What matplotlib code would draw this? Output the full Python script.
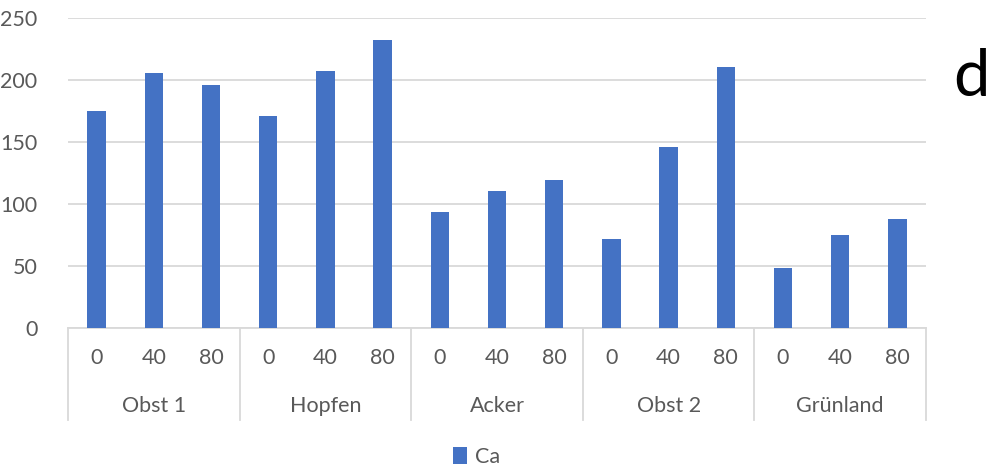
import matplotlib.pyplot as plt
import matplotlib.transforms as mtransforms

# data
groups = ['Obst 1', 'Hopfen', 'Acker', 'Obst 2', 'Grünland']
doses = ['0', '40', '80']
ca_values = [175, 205, 196,
             171, 207, 232,
             93, 110, 119,
             72, 146, 210,
             48, 75, 88]
y_ticks = [0, 50, 100, 150, 200, 250]

plt.rcParams['font.family'] = ['Lato', 'DejaVu Sans']

BAR_COLOR = '#4472C4'
GRID_COLOR = '#d9d9d9'
TEXT_COLOR = '#595959'
FS = 15.5

fig = plt.figure(figsize=(9.93, 4.73), dpi=100)
ax = fig.add_axes([68 / 993, 1 - 328 / 473, (926 - 68) / 993, (328 - 17.5) / 473])

x = list(range(len(ca_values)))
ax.bar(x, ca_values, width=0.32, color=BAR_COLOR, label='Ca', zorder=3)

ax.set_xlim(-0.5, len(ca_values) - 0.5)
ax.set_ylim(0, 250)
ax.set_yticks(y_ticks)
ax.tick_params(axis='y', length=0, pad=22, labelsize=FS, labelcolor=TEXT_COLOR)
ax.set_xticks([])
ax.grid(axis='y', color=GRID_COLOR, linewidth=1.3, zorder=0)
for side in ['left', 'right', 'top']:
    ax.spines[side].set_visible(False)
ax.spines['bottom'].set_color(GRID_COLOR)
ax.spines['bottom'].set_linewidth(1.3)

# multi-level category axis
trans = mtransforms.blended_transform_factory(ax.transData, ax.transAxes)
n_dose = len(doses)
for g in range(len(groups) + 1):
    xs = g * n_dose - 0.5
    ax.plot([xs, xs], [0, -0.296], transform=trans, color=GRID_COLOR,
            linewidth=1.3, clip_on=False)
for g, name in enumerate(groups):
    for d, lab in enumerate(doses):
        ax.text(g * n_dose + d, -0.097, lab, transform=trans, ha='center',
                va='center', fontsize=FS, color=TEXT_COLOR)
    ax.text(g * n_dose + 1, -0.251, name, transform=trans, ha='center',
            va='center', fontsize=FS, color=TEXT_COLOR)

fig.legend(loc='center', bbox_to_anchor=(0.48, 1 - 457 / 473), frameon=False,
           fontsize=FS, handlelength=0.65, handleheight=0.85, handletextpad=0.4,
           labelcolor=TEXT_COLOR)

fig.text(990 / 993, 1 - 78 / 473, 'd', ha='right', va='center', fontsize=47,
         color='black')

fig.savefig('out.png', dpi=100)
